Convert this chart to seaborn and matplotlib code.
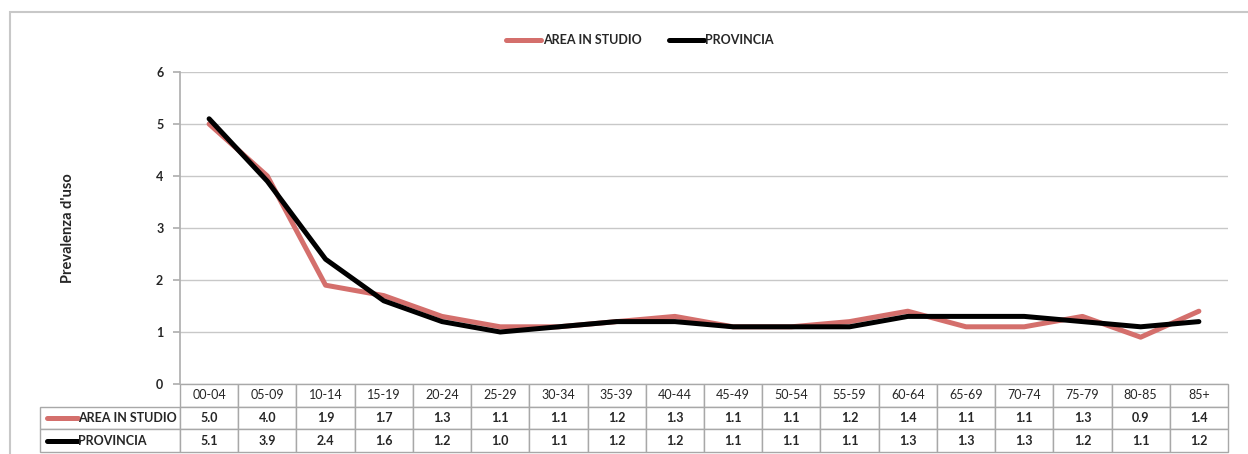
import matplotlib
matplotlib.use('Agg')
import matplotlib.pyplot as plt
import numpy as np
import pandas as pd
import seaborn as sns
from matplotlib.lines import Line2D
from matplotlib.patches import Rectangle

# data
age_groups = ['00-04', '05-09', '10-14', '15-19', '20-24', '25-29', '30-34', '35-39', '40-44',
              '45-49', '50-54', '55-59', '60-64', '65-69', '70-74', '75-79', '80-85', '85+']
area_studio = [5.0, 4.0, 1.9, 1.7, 1.3, 1.1, 1.1, 1.2, 1.3, 1.1, 1.1, 1.2, 1.4, 1.1, 1.1, 1.3, 0.9, 1.4]
provincia = [5.1, 3.9, 2.4, 1.6, 1.2, 1.0, 1.1, 1.2, 1.2, 1.1, 1.1, 1.1, 1.3, 1.3, 1.3, 1.2, 1.1, 1.2]
series_names = ['AREA IN STUDIO', 'PROVINCIA']
series_colors = ['#d46f6c', '#000000']

sns.set_theme(style='white')
plt.rcParams['font.family'] = ['Lato', 'DejaVu Sans']

df = pd.DataFrame({
    'x': list(range(len(age_groups))) * 2,
    'value': area_studio + provincia,
    'serie': [series_names[0]] * len(age_groups) + [series_names[1]] * len(age_groups),
})

W, H = 1248, 454
fig = plt.figure(figsize=(W / 100, H / 100), dpi=100)
ax = fig.add_axes([180 / W, 1 - 384 / H, 1048 / W, 312 / H])

sns.lineplot(data=df, x='x', y='value', hue='serie', palette=series_colors,
             linewidth=3.6, ax=ax, legend=False)

ax.set_xlim(-0.5, len(age_groups) - 0.5)
ax.set_ylim(0, 6)
ax.set_yticks(range(0, 7))
ax.set_xticks([])
ax.set_xlabel('')
ax.set_ylabel("Prevalenza d'uso", fontsize=10.5, fontweight='bold', labelpad=58)
ax.grid(True, axis='y', color='#c8c8c8', linewidth=1)
for s in ['top', 'right', 'bottom']:
    ax.spines[s].set_visible(False)
ax.spines['left'].set_color('#b0b0b0')
ax.tick_params(axis='y', left=True, length=5, color='#b0b0b0', labelsize=9, pad=7)
for lbl in ax.get_yticklabels():
    lbl.set_fontweight('bold')

# data table under the axes
cell_text = [[''] + age_groups,
             [''] + [f'{v:.1f}' for v in area_studio],
             [''] + [f'{v:.1f}' for v in provincia]]
col_w = [140] + [1048 / len(age_groups)] * len(age_groups)
x0 = (40 - 180) / 1048
tb = ax.table(cellText=cell_text, colWidths=col_w, cellLoc='center',
              bbox=[x0, -68 / 312, 1188 / 1048, 68 / 312])
tb.auto_set_font_size(False)
tb.set_fontsize(9)
for (r, c), cell in tb.get_celld().items():
    cell.set_edgecolor('#a8a8a8')
    cell.set_linewidth(1)
    if r > 0 and c > 0:
        cell.get_text().set_fontweight('bold')
tb[0, 0].visible_edges = ''

# row labels with line keys
for i, (name, col) in enumerate(zip(series_names, series_colors)):
    yc = 1 - (418 + 23 * i) / H
    fig.add_artist(Line2D([47 / W, 78 / W], [yc, yc], color=col, linewidth=3.6))
    fig.text(78 / W, yc, name, ha='left', va='center', fontsize=9, fontweight='bold')

# legend
handles = [Line2D([], [], color=c, linewidth=3.6) for c in series_colors]
fig.legend(handles, series_names, loc='center', bbox_to_anchor=(640 / W, 1 - 40 / H),
           ncol=2, frameon=False, handlelength=2.8, handletextpad=0.1, columnspacing=2.2,
           prop={'size': 9, 'weight': 'bold'})

# chart border
fig.add_artist(Rectangle((10 / W, -0.05), 1.1, 1 - 12 / H + 0.05, transform=fig.transFigure,
                         fill=False, edgecolor='#c8c8c8', linewidth=1.5))

fig.savefig('out.png', dpi=100)
